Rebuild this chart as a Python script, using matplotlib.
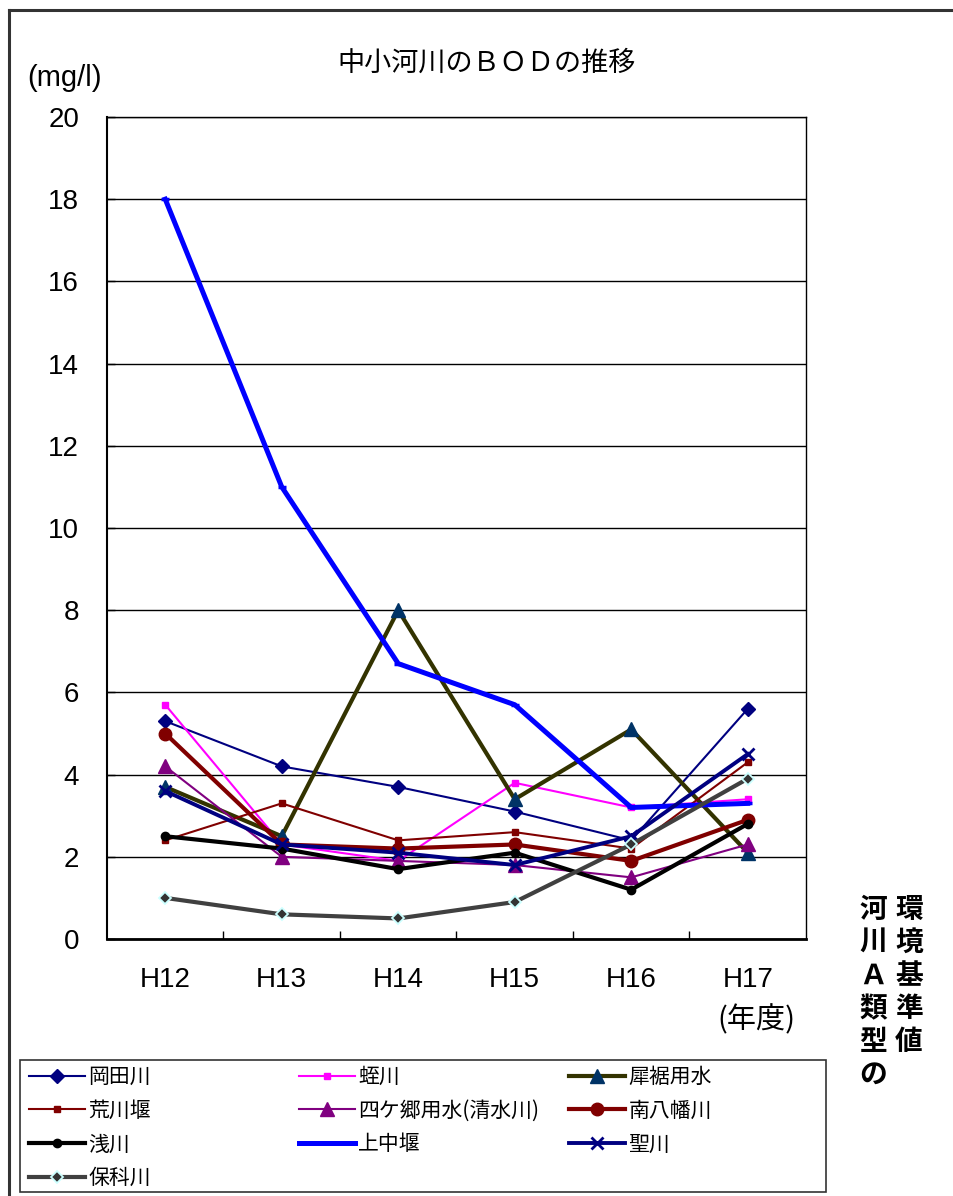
import matplotlib
matplotlib.use("Agg")
import matplotlib.pyplot as plt
from matplotlib.lines import Line2D
from matplotlib.patches import Rectangle

years = ['H12', 'H13', 'H14', 'H15', 'H16', 'H17']
okada = [5.3, 4.2, 3.7, 3.1, 2.4, 5.6]
hiru = [5.7, 2.3, 1.9, 3.8, 3.2, 3.4]
saisuso = [3.7, 2.5, 8.0, 3.4, 5.1, 2.1]
arakawa = [2.4, 3.3, 2.4, 2.6, 2.2, 4.3]
shikago = [4.2, 2.0, 1.9, 1.8, 1.5, 2.3]
minami = [5.0, 2.3, 2.2, 2.3, 1.9, 2.9]
asakawa = [2.5, 2.2, 1.7, 2.1, 1.2, 2.8]
kaminaka = [18.0, 11.0, 6.7, 5.7, 3.2, 3.3]
hijiri = [3.6, 2.3, 2.1, 1.8, 2.5, 4.5]
hoshina = [1.0, 0.6, 0.5, 0.9, 2.3, 3.9]

names = ['岡田川', '蛭川', '犀裾用水', '荒川堰', '四ケ郷用水(清水川)', '南八幡川',
         '浅川', '上中堰', '聖川', '保科川']
yticks = [0, 2, 4, 6, 8, 10, 12, 14, 16, 18, 20]

CJK = ['Noto Sans CJK JP', 'DejaVu Sans']
LAT = ['Liberation Sans', 'Noto Sans CJK JP']
plt.rcParams['font.family'] = CJK

W, H = 954, 1196
fig = plt.figure(figsize=(W / 100, H / 100), dpi=100)
ax = fig.add_axes([107 / W, 1 - 939 / H, 699 / W, 822 / H])

x = list(range(len(years)))
styles = [
    (okada, dict(color='#000080', lw=1.5, marker='D', ms=7, mfc='#000080', mec='#000080')),
    (hiru, dict(color='#FF00FF', lw=1.5, marker='s', ms=4, mfc='#FF00FF', mec='#FF00FF')),
    (saisuso, dict(color='#333300', lw=3, marker='^', ms=10, mfc='#003366', mec='#003366')),
    (arakawa, dict(color='#800000', lw=1.5, marker='s', ms=4, mfc='#800000', mec='#800000')),
    (shikago, dict(color='#800080', lw=1.5, marker='^', ms=10, mfc='#800080', mec='#800080')),
    (minami, dict(color='#800000', lw=3, marker='o', ms=9, mfc='#800000', mec='#800000')),
    (asakawa, dict(color='#000000', lw=3, marker='o', ms=6, mfc='#000000', mec='#000000')),
    (kaminaka, dict(color='#0000FF', lw=3.6, marker='_', ms=6, mew=2.5, mfc='#0000FF', mec='#0000FF')),
    (hijiri, dict(color='#000080', lw=2.8, marker='x', ms=9, mew=2, mfc='#000080', mec='#000080')),
    (hoshina, dict(color='#404040', lw=3, marker='D', ms=6, mew=1.3, mfc='#333333', mec='#CCFFFF')),
]
handles = []
for (vals, st), nm in zip(styles, names):
    h, = ax.plot(x, vals, label=nm, solid_joinstyle='miter', **st)
    handles.append(h)

ax.set_xlim(-0.5, 5.5)
ax.set_ylim(0, 20)
ax.set_yticks(yticks)
ax.set_yticklabels([str(v) for v in yticks], family=LAT, fontsize=20)
ax.set_xticks(x)
ax.set_xticklabels(years, family=LAT, fontsize=20)
ax.set_xticks([i + 0.5 for i in range(len(years) - 1)], minor=True)
ax.tick_params(axis='x', which='major', length=0, pad=20)
ax.tick_params(axis='x', which='minor', direction='in', length=6, width=1)
ax.tick_params(axis='y', direction='in', length=6, width=1, pad=20)
ax.grid(axis='y', color='black', lw=1)
ax.set_axisbelow(True)
for s in ax.spines.values():
    s.set_color('black')
    s.set_linewidth(1)
ax.spines['bottom'].set_linewidth(2)
ax.spines['left'].set_linewidth(1.5)

# outer frame (top and left)
fig.add_artist(Line2D([9 / W, 1], [1 - 10 / H, 1 - 10 / H], color='#333333', lw=2.2))
fig.add_artist(Line2D([9 / W, 9 / W], [1 - 10 / H, 0], color='#333333', lw=2.2))

# texts
fig.text(487 / W, 1 - 63 / H, '中小河川のＢＯＤの推移', ha='center', va='center',
         fontsize=19.5, family=CJK)
fig.text(65 / W, 1 - 78 / H, '(mg/l)', ha='center', va='center', fontsize=21, family=LAT)
fig.text(756 / W, 1 - 1020 / H, '(年度)', ha='center', va='center', fontsize=21, family=CJK)

col_r = '環境基準値'
col_l = '河川Ａ類型の'
for i, ch in enumerate(col_r):
    fig.text(909 / W, 1 - (910 + 33 * i) / H, ch, ha='center', va='center',
             fontsize=20, fontweight='bold', family=CJK)
for i, ch in enumerate(col_l):
    fig.text(873 / W, 1 - (910 + 33 * i) / H, ch, ha='center', va='center',
             fontsize=20, fontweight='bold', family=CJK)

# legend box
fig.add_artist(Rectangle((20 / W, 1 - 1192 / H), 806 / W, 132 / H, transform=fig.transFigure,
                         fill=False, edgecolor='#333333', lw=1.2))
cols = [[0, 3, 6, 9], [1, 4, 7], [2, 5, 8]]
xs = [29, 299, 569]
for c, xx in zip(cols, xs):
    fig.legend([handles[i] for i in c], [names[i] for i in c], loc='upper left',
               bbox_to_anchor=(xx / W, 1 - 1066 / H), frameon=False, borderpad=0,
               borderaxespad=0, handlelength=2.7, handletextpad=0.15, labelspacing=0.56,
               prop={'family': CJK, 'size': 15})

fig.savefig('out.png', dpi=100)
